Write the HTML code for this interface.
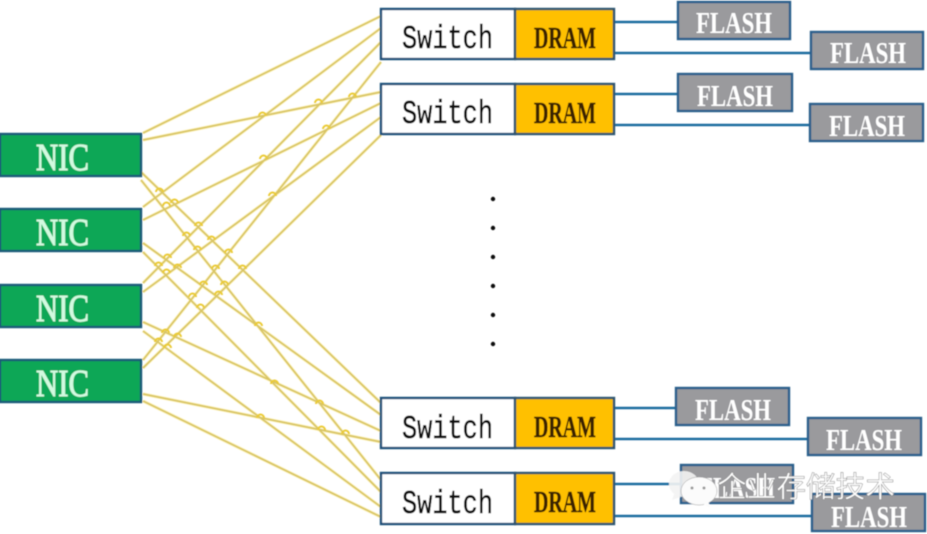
<!DOCTYPE html>
<html><head><meta charset="utf-8"><style>
html,body{margin:0;padding:0;background:#fff;width:927px;height:534px;overflow:hidden}
svg{display:block}
text{font-family:"Liberation Serif",serif}
.mono{font-family:"Liberation Mono",monospace}
</style></head><body>
<svg width="927" height="534" viewBox="0 0 927 534" xmlns="http://www.w3.org/2000/svg">
<defs><filter id="b" x="-5%" y="-5%" width="110%" height="110%"><feGaussianBlur stdDeviation="0.45"/></filter></defs>
<rect width="927" height="534" fill="#fff"/>
<g filter="url(#b)">
<g fill="none" stroke="#fbe98a" stroke-width="3.2" opacity=".55">
<path d="M143 133L381 16M143 140L381 92M143 207L381 28M143 220L381 103M143 283L381 42M143 292L381 117M143 360L381 62M143 368L381 135M141 172L381 403M141 180L381 480M143 243L381 415M143 252L381 492M143 322L381 431M143 331L381 507M143 394L381 442M143 401L381 517"/>
</g>
<g fill="none" stroke="#d8c465" stroke-width="1.7">
<path d="M143 133L381 16M143 140L381 92M143 207L381 28M143 220L381 103M143 283L381 42M143 292L381 117M143 360L381 62M143 368L381 135M141 172L381 403M141 180L381 480M143 243L381 415M143 252L381 492M143 322L381 431M143 331L381 507M143 394L381 442M143 401L381 517"/>
</g>
<g fill="none" stroke="#ebcb35" stroke-width="2">
<path d="M156 192a3.5 3.5 0 0 1 7 0M163 206a3.5 3.5 0 0 1 7 0M171 203a3.5 3.5 0 0 1 7 0M195 226a3.5 3.5 0 0 1 7 0M183 236a3.5 3.5 0 0 1 7 0M208 240a3.5 3.5 0 0 1 7 0M194 250a3.5 3.5 0 0 1 7 0M225 253a3.5 3.5 0 0 1 7 0M239 269a3.5 3.5 0 0 1 7 0M212 269a3.5 3.5 0 0 1 7 0M200 285a3.5 3.5 0 0 1 7 0M221 285a3.5 3.5 0 0 1 7 0M189 297a3.5 3.5 0 0 1 7 0M215 295a3.5 3.5 0 0 1 7 0M197 308a3.5 3.5 0 0 1 7 0M164 258a3.5 3.5 0 0 1 7 0M155 266a3.5 3.5 0 0 1 7 0M163 273a3.5 3.5 0 0 1 7 0M174 268a3.5 3.5 0 0 1 7 0M162 333a3.5 3.5 0 0 1 7 0M155 342a3.5 3.5 0 0 1 7 0M164 348a3.5 3.5 0 0 1 7 0M174 337a3.5 3.5 0 0 1 7 0M259 116a3.5 3.5 0 0 1 7 0M315 103a3.5 3.5 0 0 1 7 0M349 97a3.5 3.5 0 0 1 7 0M323 129a3.5 3.5 0 0 1 7 0M260 159a3.5 3.5 0 0 1 7 0M269 196a3.5 3.5 0 0 1 7 0M271 384a3.5 3.5 0 0 1 7 0M316 404a3.5 3.5 0 0 1 7 0M257 418a3.5 3.5 0 0 1 7 0M318 430a3.5 3.5 0 0 1 7 0M342 434a3.5 3.5 0 0 1 7 0M255 326a3.5 3.5 0 0 1 7 0"/>
</g>
<g fill="#0aa757" stroke="#1d5a78" stroke-width="2.4">
<rect x="0" y="134" width="141" height="42"/>
<rect x="0" y="209" width="141" height="42"/>
<rect x="0" y="285" width="141" height="42"/>
<rect x="0" y="360" width="141" height="42"/>
</g>
<g fill="#d2fae0" stroke="#d2fae0" stroke-width=".9" font-size="38">
<text x="36" y="170" textLength="53" lengthAdjust="spacingAndGlyphs">NIC</text>
<text x="36" y="245" textLength="53" lengthAdjust="spacingAndGlyphs">NIC</text>
<text x="36" y="321" textLength="53" lengthAdjust="spacingAndGlyphs">NIC</text>
<text x="36" y="396" textLength="53" lengthAdjust="spacingAndGlyphs">NIC</text>
</g>
<g stroke="#1f6d9f" stroke-width="2.4" fill="none">
<path d="M615 22H678M615 53H811M615 94H678M615 125H810M615 408H676M615 439H808M615 484H681M615 516H812"/>
</g>
<g stroke="#1f4f78" stroke-width="2.4">
<g fill="#fff">
<rect x="381" y="9" width="134" height="50"/>
<rect x="381" y="84" width="134" height="50"/>
<rect x="381" y="398" width="134" height="50"/>
<rect x="381" y="473" width="134" height="51"/>
</g>
<g fill="#ffc000" stroke="#2d5570">
<rect x="515" y="9" width="99" height="50"/>
<rect x="515" y="84" width="99" height="50"/>
<rect x="515" y="398" width="99" height="50"/>
<rect x="515" y="473" width="99" height="51"/>
</g>
<g fill="#9a9a9d" stroke="#2a5f8c">
<rect x="678" y="2" width="112" height="37"/>
<rect x="811" y="32" width="112" height="37"/>
<rect x="678" y="74" width="114" height="37"/>
<rect x="810" y="104" width="113" height="37"/>
<rect x="676" y="388" width="113" height="37"/>
<rect x="808" y="418" width="113" height="37"/>
<rect x="681" y="465" width="112" height="38"/>
<rect x="812" y="494" width="113" height="37"/>
</g>
</g>
<g fill="#111" stroke="#111" stroke-width=".35" font-size="25">
<text class="mono" transform="translate(402 48) scale(1 1.32)" textLength="91" lengthAdjust="spacingAndGlyphs">Switch</text>
<text class="mono" transform="translate(402 123) scale(1 1.32)" textLength="91" lengthAdjust="spacingAndGlyphs">Switch</text>
<text class="mono" transform="translate(402 438) scale(1 1.32)" textLength="91" lengthAdjust="spacingAndGlyphs">Switch</text>
<text class="mono" transform="translate(402 513) scale(1 1.32)" textLength="91" lengthAdjust="spacingAndGlyphs">Switch</text>
</g>
<g fill="#3a2400" stroke="#3a2400" stroke-width=".5" font-size="31" font-weight="bold">
<text x="534" y="48" textLength="62" lengthAdjust="spacingAndGlyphs">DRAM</text>
<text x="534" y="123" textLength="62" lengthAdjust="spacingAndGlyphs">DRAM</text>
<text x="534" y="437" textLength="62" lengthAdjust="spacingAndGlyphs">DRAM</text>
<text x="534" y="512" textLength="62" lengthAdjust="spacingAndGlyphs">DRAM</text>
</g>
<g fill="#fff" font-size="31">
<text x="696" y="33" textLength="76" lengthAdjust="spacingAndGlyphs" font-weight="bold">FLASH</text>
<text x="830" y="63" textLength="76" lengthAdjust="spacingAndGlyphs" font-weight="bold">FLASH</text>
<text x="697" y="106" textLength="76" lengthAdjust="spacingAndGlyphs" font-weight="bold">FLASH</text>
<text x="829" y="136" textLength="76" lengthAdjust="spacingAndGlyphs" font-weight="bold">FLASH</text>
<text x="695" y="420" textLength="76" lengthAdjust="spacingAndGlyphs" font-weight="bold">FLASH</text>
<text x="826" y="450" textLength="76" lengthAdjust="spacingAndGlyphs" font-weight="bold">FLASH</text>
<text x="699" y="498" textLength="76" lengthAdjust="spacingAndGlyphs" font-weight="bold">FLASH</text>
<text x="831" y="527" textLength="76" lengthAdjust="spacingAndGlyphs" font-weight="bold">FLASH</text>
</g>
<g fill="#111">
<circle cx="493" cy="199" r="2.2"/><circle cx="493" cy="228" r="2.2"/><circle cx="493" cy="257" r="2.2"/><circle cx="493" cy="286" r="2.2"/><circle cx="493" cy="315" r="2.2"/><circle cx="493" cy="344" r="2.2"/>
</g>
<g>
<ellipse cx="684" cy="484" rx="15" ry="13" fill="#f3f3f3" opacity=".9"/>
<path d="M674 494l-2 6 9-3z" fill="#f3f3f3" opacity=".9"/>
<ellipse cx="699" cy="491" rx="18" ry="14" fill="#fbfbfb" stroke="#999" stroke-width=".5"/>
<path d="M702 503l8 5-2-8z" fill="#fbfbfb"/>
<circle cx="692" cy="488" r="1.5" fill="#999"/><circle cx="704" cy="488" r="1.5" fill="#999"/>
</g>
<text x="717" y="497" font-size="29" fill="#fff" stroke="#888" stroke-width=".5" style='font-family:"Liberation Sans","Noto Sans CJK SC",sans-serif' textLength="178" lengthAdjust="spacingAndGlyphs">企业存储技术</text>
</g>
</svg>
</body></html>
